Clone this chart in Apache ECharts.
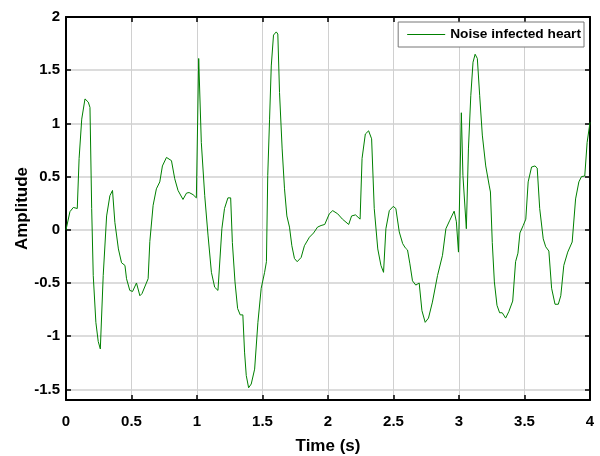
<!DOCTYPE html>
<html>
<head>
<meta charset="utf-8">
<script src="https://cdn.jsdelivr.net/npm/echarts@6/dist/echarts.min.js"></script>
<style>html,body{margin:0;padding:0;background:#fff;}#c{width:600px;height:456px;}</style>
</head>
<body>
<div id="c"></div>
<script>
var timeValues = [0.00,0.03,0.056,0.086,0.10,0.12,0.145,0.17,0.183,0.196,0.208,0.228,0.246,0.262,0.272,0.284,0.31,0.335,0.355,0.373,0.40,0.424,0.45,0.462,0.487,0.508,0.538,0.564,0.58,0.627,0.64,0.665,0.69,0.716,0.736,0.767,0.805,0.83,0.855,0.893,0.92,0.94,0.97,0.995,1.013,1.033,1.059,1.084,1.11,1.135,1.16,1.19,1.21,1.236,1.257,1.27,1.29,1.31,1.33,1.35,1.363,1.376,1.394,1.414,1.44,1.465,1.49,1.516,1.53,1.54,1.554,1.567,1.584,1.605,1.617,1.63,1.65,1.668,1.686,1.706,1.724,1.744,1.765,1.795,1.82,1.858,1.89,1.92,1.947,1.975,2.01,2.036,2.074,2.11,2.158,2.18,2.21,2.245,2.26,2.285,2.31,2.333,2.353,2.38,2.404,2.424,2.442,2.468,2.498,2.518,2.544,2.57,2.59,2.607,2.625,2.645,2.67,2.696,2.717,2.742,2.767,2.797,2.836,2.874,2.90,2.93,2.963,2.98,2.996,3.018,3.03,3.056,3.072,3.09,3.107,3.123,3.14,3.158,3.178,3.204,3.23,3.24,3.254,3.27,3.29,3.31,3.33,3.356,3.38,3.41,3.432,3.45,3.465,3.49,3.51,3.528,3.554,3.58,3.597,3.616,3.643,3.662,3.686,3.707,3.733,3.758,3.777,3.80,3.83,3.864,3.89,3.915,3.935,3.96,3.978,4.00];
var amplitudeValues = [0.00,0.17,0.21,0.20,0.67,1.04,1.23,1.20,1.15,0.20,-0.43,-0.87,-1.05,-1.12,-1.12,-0.43,0.13,0.32,0.37,0.07,-0.18,-0.31,-0.335,-0.46,-0.57,-0.58,-0.50,-0.62,-0.60,-0.46,-0.11,0.23,0.385,0.45,0.60,0.68,0.65,0.48,0.37,0.285,0.345,0.35,0.33,0.30,1.61,0.82,0.32,-0.05,-0.40,-0.54,-0.57,0.01,0.20,0.30,0.30,-0.12,-0.49,-0.74,-0.80,-0.80,-1.15,-1.37,-1.485,-1.45,-1.31,-0.87,-0.55,-0.40,-0.30,0.51,1.04,1.54,1.83,1.86,1.84,1.29,0.76,0.385,0.13,0.025,-0.15,-0.27,-0.30,-0.26,-0.15,-0.07,-0.03,0.025,0.04,0.05,0.15,0.18,0.15,0.10,0.05,0.13,0.14,0.10,0.67,0.90,0.93,0.855,0.20,-0.18,-0.335,-0.40,0.01,0.18,0.22,0.20,-0.02,-0.13,-0.17,-0.19,-0.32,-0.48,-0.52,-0.50,-0.76,-0.87,-0.83,-0.68,-0.43,-0.24,0.01,0.09,0.175,0.075,-0.21,1.10,0.51,0.01,0.76,1.26,1.575,1.65,1.61,1.26,0.89,0.60,0.42,0.355,-0.12,-0.49,-0.71,-0.78,-0.78,-0.83,-0.77,-0.67,-0.30,-0.22,-0.03,0.04,0.10,0.45,0.59,0.60,0.58,0.20,-0.085,-0.16,-0.20,-0.55,-0.70,-0.70,-0.62,-0.335,-0.21,-0.115,0.29,0.45,0.50,0.505,0.82,1.01];
var seriesName = 'Noise infected heart';
var xTitle = 'Time (s)';
var yTitle = 'Amplitude';

var pts = timeValues.map(function (t, i) { return [t, amplitudeValues[i]]; });
var FONT = "'Liberation Sans', Arial, Helvetica, sans-serif";
var chart = echarts.init(document.getElementById('c'), null, { renderer: 'canvas' });
var axisLine = { show: true, onZero: false, lineStyle: { color: '#000', width: 2 } };
var tick = { show: true, inside: true, length: 5, lineStyle: { color: '#000', width: 1.5 } };
chart.setOption({
  animation: false,
  backgroundColor: '#fff',
  grid: { left: 66, right: 10, top: 17, bottom: 56, containLabel: false, outerBoundsMode: 'none' },
  legend: {
    data: [{ name: seriesName, icon: 'rect' }],
    right: 16, top: 22,
    itemWidth: 38, itemHeight: 1.2, itemGap: 0,
    padding: [5, 3, 5, 9],
    backgroundColor: '#fff',
    borderColor: '#777', borderWidth: 1, borderRadius: 0,
    textStyle: { fontFamily: FONT, fontWeight: 'bold', fontSize: 13.7, color: '#000', lineHeight: 15 }
  },
  xAxis: [{
    type: 'value', min: 0, max: 4, interval: 0.5, position: 'bottom',
    axisLine: axisLine, axisTick: tick,
    axisLabel: { margin: 14, fontFamily: FONT, fontWeight: 'bold', fontSize: 15, color: '#000' },
    splitLine: { show: true, lineStyle: { color: '#d0d0d0', width: 1 } },
    name: xTitle, nameLocation: 'middle', nameGap: 38, nameMoveOverlap: false,
    nameTextStyle: { fontFamily: FONT, fontWeight: 'bold', fontSize: 17, color: '#000' }
  }, {
    type: 'value', min: 0, max: 4, interval: 0.5, position: 'top',
    axisLine: axisLine, axisTick: tick, axisLabel: { show: false }, splitLine: { show: false }
  }],
  yAxis: [{
    type: 'value', min: -1.6, max: 2, splitNumber: 7, position: 'left',
    axisLine: axisLine, axisTick: tick,
    axisLabel: { margin: 6, showMinLabel: false, fontFamily: FONT, fontWeight: 'bold', fontSize: 15, color: '#000' },
    splitLine: { show: true, lineStyle: { color: '#d0d0d0', width: 1.5 } },
    name: yTitle, nameLocation: 'middle', nameGap: 35, nameMoveOverlap: false,
    nameTextStyle: { fontFamily: FONT, fontWeight: 'bold', fontSize: 17, color: '#000' }
  }, {
    type: 'value', min: -1.6, max: 2, splitNumber: 7, position: 'right',
    axisLine: axisLine, axisTick: tick, axisLabel: { show: false }, splitLine: { show: false }
  }],
  series: [{
    name: seriesName, type: 'line', data: pts,
    xAxisIndex: 0, yAxisIndex: 0,
    showSymbol: false, symbol: 'none', smooth: false,
    lineStyle: { color: '#008000', width: 1 },
    itemStyle: { color: '#008000' },
    clip: true
  }]
});
</script>
</body>
</html>
